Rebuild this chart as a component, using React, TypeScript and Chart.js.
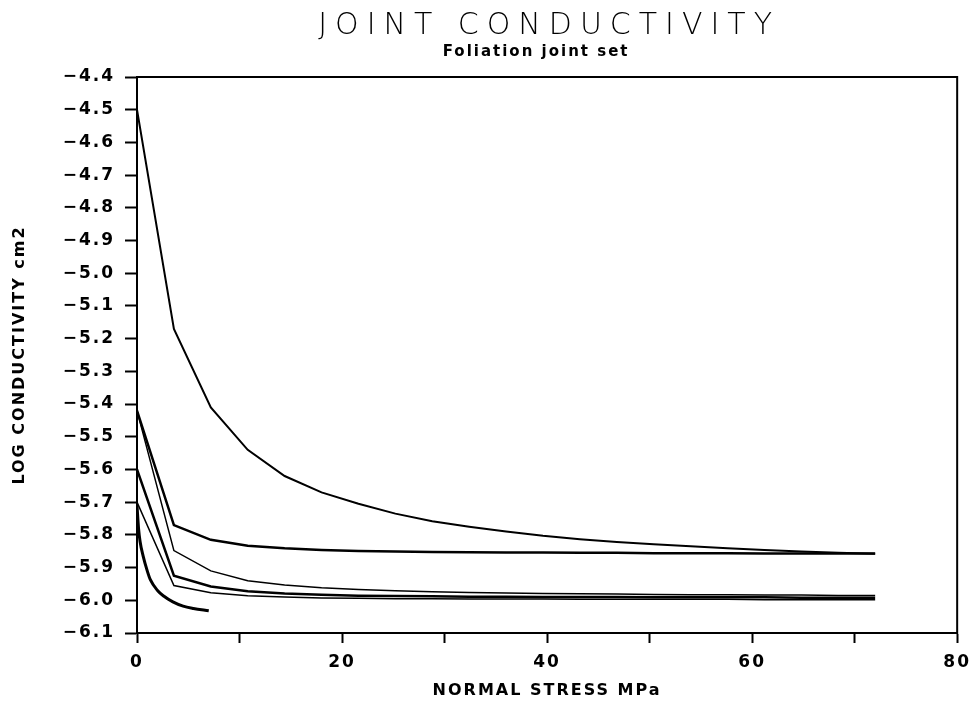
import React, { useEffect, useRef } from 'react';
import { Chart, registerables } from 'chart.js';

Chart.register(...registerables);

// ---- data ----
const titleText = 'JOINT CONDUCTIVITY';
const subtitleText = 'Foliation joint set';
const xAxisTitle = 'NORMAL STRESS MPa';
const yAxisTitle = 'LOG CONDUCTIVITY cm2';

const stressMPa = [0, 3.6, 7.2, 10.8, 14.4, 18, 21.6, 25.2, 28.8, 32.4, 36, 39.6, 43.2, 46.8, 50.4, 54, 57.6, 61.2, 64.8, 68.4, 72];

const curveA = [-4.50, -5.17, -5.41, -5.54, -5.62, -5.67, -5.705, -5.735, -5.758, -5.775, -5.79, -5.803, -5.813, -5.822, -5.829, -5.835, -5.841, -5.846, -5.851, -5.855, -5.858];
const curveB = [-5.42, -5.77, -5.815, -5.833, -5.841, -5.846, -5.849, -5.851, -5.852, -5.853, -5.854, -5.854, -5.855, -5.855, -5.856, -5.856, -5.856, -5.857, -5.857, -5.857, -5.857];
const curveC = [-5.42, -5.848, -5.91, -5.94, -5.953, -5.962, -5.967, -5.971, -5.974, -5.976, -5.978, -5.979, -5.98, -5.981, -5.982, -5.983, -5.983, -5.984, -5.984, -5.985, -5.985];
const curveD = [-5.60, -5.925, -5.958, -5.972, -5.979, -5.983, -5.986, -5.987, -5.988, -5.989, -5.989, -5.99, -5.99, -5.99, -5.991, -5.991, -5.991, -5.991, -5.992, -5.992, -5.992];
const curveE = [-5.70, -5.955, -5.977, -5.986, -5.99, -5.993, -5.994, -5.995, -5.995, -5.996, -5.996, -5.996, -5.997, -5.997, -5.997, -5.997, -5.997, -5.998, -5.998, -5.998, -5.998];

const stressF = [0, 0.15, 0.3, 0.6, 1.0, 1.3, 2.0, 2.6, 3.5, 4.5, 5.5, 7.0];
const curveF = [-5.71, -5.78, -5.82, -5.865, -5.91, -5.937, -5.97, -5.987, -6.005, -6.018, -6.025, -6.032];

const xMin = 0;
const xMax = 80;
const yMin = -6.1;
const yMax = -4.4;

const FONT = '"DejaVu Sans", "Liberation Sans", sans-serif';

function pts(xs: number[], ys: number[]) {
  return xs.map((x, i) => ({ x, y: ys[i] }));
}

export default function App() {
  const ref = useRef<HTMLCanvasElement>(null);

  useEffect(() => {
    const canvas = ref.current;
    if (!canvas) return;

    const framePlugin = {
      id: 'frameAndTitles',
      beforeDraw(chart: any) {
        (chart.ctx as any).letterSpacing = '2px';
      },
      afterDraw(chart: any) {
        const c = chart.ctx as any;
        const { left, right, top, bottom } = chart.chartArea;
        c.save();
        c.letterSpacing = '0px';
        c.strokeStyle = '#000';
        c.lineWidth = 2;
        c.beginPath();
        c.moveTo(left - 1, top);
        c.lineTo(right, top);
        c.lineTo(right, bottom + 1);
        c.stroke();
        const cx = (left + right) / 2;
        c.fillStyle = '#000';
        c.textAlign = 'center';
        c.textBaseline = 'alphabetic';
        c.letterSpacing = '8px';
        c.font = `200 30px ${FONT}`;
        c.fillText(titleText, cx + 2, 34);
        c.letterSpacing = '2px';
        c.font = `bold 15px ${FONT}`;
        c.fillText(subtitleText, cx - 11, 56);
        c.restore();
        c.letterSpacing = '0px';
      },
    };

    const lineDs = (label: string, xs: number[], ys: number[], w: number, smooth = false) => ({
      label,
      data: pts(xs, ys),
      borderColor: '#000',
      backgroundColor: '#000',
      borderWidth: w,
      pointRadius: 0,
      fill: false,
      tension: smooth ? 0.4 : 0,
      cubicInterpolationMode: smooth ? 'monotone' : 'default',
    });

    const chart = new Chart(canvas, {
      type: 'line',
      data: {
        datasets: [
          lineDs('A', stressMPa, curveA, 2),
          lineDs('B', stressMPa, curveB, 2.5),
          lineDs('C', stressMPa, curveC, 1.5),
          lineDs('D', stressMPa, curveD, 2.5),
          lineDs('E', stressMPa, curveE, 1.5),
          lineDs('F', stressF, curveF, 3, true),
        ] as any,
      },
      options: {
        responsive: false,
        animation: false,
        devicePixelRatio: 1,
        layout: { padding: { top: 77, right: 16, bottom: 0, left: 0 } },
        plugins: {
          legend: { display: false },
          tooltip: { enabled: false },
          title: { display: false },
        },
        scales: {
          x: {
            type: 'linear',
            min: xMin,
            max: xMax,
            afterFit: (s: any) => { s.height = 77; },
            border: { display: true, color: '#000', width: 2 },
            grid: { drawOnChartArea: false, drawTicks: true, tickLength: 10, tickColor: '#000', tickWidth: 2 },
            ticks: {
              stepSize: 10,
              autoSkip: false,
              maxRotation: 0,
              padding: 9,
              color: '#000',
              font: { family: FONT, size: 17, weight: 'bold' },
              callback: (v: any) => (Number(v) % 20 === 0 ? String(v) : ''),
            },
            title: {
              display: true,
              text: xAxisTitle,
              color: '#000',
              font: { family: FONT, size: 16, weight: 'bold' },
              padding: { top: 0, bottom: 10 },
            },
          },
          y: {
            type: 'linear',
            min: yMin,
            max: yMax,
            afterFit: (s: any) => { s.width = 137; },
            border: { display: true, color: '#000', width: 2 },
            grid: { drawOnChartArea: false, drawTicks: true, tickLength: 12, tickColor: '#000', tickWidth: 2 },
            ticks: {
              stepSize: 0.1,
              autoSkip: false,
              padding: 10,
              color: '#000',
              font: { family: FONT, size: 17, weight: 'bold' },
              callback: (v: any) => Number(v).toFixed(1).replace('-', '\u2212'),
            },
            title: {
              display: true,
              text: yAxisTitle,
              color: '#000',
              font: { family: FONT, size: 16, weight: 'bold' },
              padding: { top: 10, bottom: 0 },
            },
          },
        },
      } as any,
      plugins: [framePlugin as any],
    });

    return () => chart.destroy();
  }, []);

  return (
    <div style={{ position: 'fixed', left: 0, top: 0, width: 978, height: 710, background: '#fff' }}>
      <canvas ref={ref} width={978} height={710} style={{ display: 'block', width: 978, height: 710 }} />
    </div>
  );
}
